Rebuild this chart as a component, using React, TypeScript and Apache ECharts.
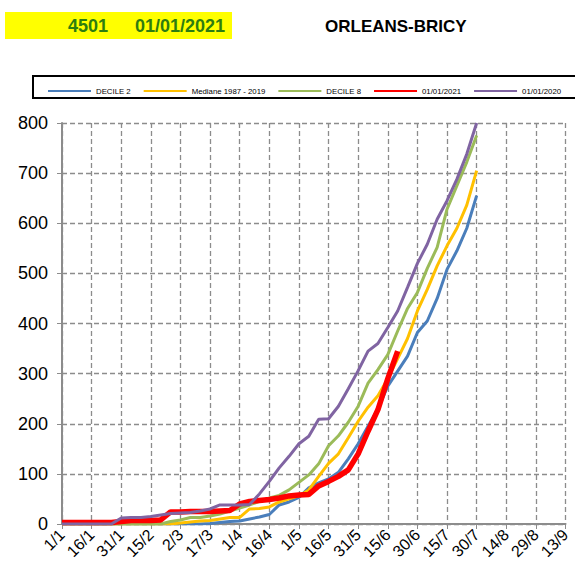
import { useEffect, useRef } from "react";
import * as echarts from "echarts";

// Day offsets from 1 January (sampling grid)
const DAYS = [
  0, 5, 10, 15, 20, 25, 30, 35, 40, 45, 50, 55, 60, 65, 70, 75, 80, 85, 90, 95,
  100, 105, 110, 115, 120, 125, 130, 135, 140, 145, 150, 155, 160, 165, 170,
  175, 180, 185, 190, 195, 200, 205, 210,
];

const DECILE_2 = [
  0, 0, 0, 0, 0, 0, 0, 0, 0, 0, 0, 0, 0, 0, 0, 1, 3, 5, 6, 10,
  14, 19, 38, 44, 53, 72, 82, 90, 103, 130, 160, 195, 230, 275, 305,
  335, 382, 405, 450, 508, 545, 590, 655,
];

const MEDIANE = [
  0, 0, 0, 0, 0, 0, 0, 0, 0, 0, 0, 0, 2, 4, 6, 7, 10, 13, 13, 30,
  31, 34, 44, 50, 56, 68, 95, 121, 140, 172, 205, 233, 256, 290, 330,
  370, 425, 468, 515, 555, 590, 636, 705,
];

const DECILE_8 = [
  0, 0, 0, 0, 0, 0, 0, 0, 0, 0, 0, 5, 8, 13, 13, 16, 20, 26, 32, 38,
  45, 52, 57, 68, 83, 98, 120, 156, 176, 203, 235, 281, 308, 338, 385,
  430, 462, 510, 552, 628, 675, 722, 775,
];

const YEAR_2021 = [
  3, 3, 3, 3, 3, 3, 5, 7, 7, 7, 8, 24, 24, 25, 25, 25, 26, 27, 40, 45,
  47, 49, 52, 56, 58, 59, 76, 85, 95, 108, 140, 185, 228, 290, 345,
];

const YEAR_2020 = [
  0, 0, 0, 0, 0, 0, 12, 13, 13, 15, 18, 21, 22, 23, 26, 30, 38, 38, 38, 39,
  60, 85, 112, 135, 160, 175, 209, 210, 235, 270, 306, 345, 360, 392, 425,
  472, 520, 558, 608, 645, 688, 738, 800,
];

const SERIES_NAMES = [
  "DECILE 2",
  "Mediane 1987 - 2019",
  "DECILE 8",
  "01/01/2021",
  "01/01/2020",
];
const SERIES_VALUES = [DECILE_2, MEDIANE, DECILE_8, YEAR_2021, YEAR_2020];
const SERIES_COLORS = ["#4a7ebb", "#ffc000", "#9bbb59", "#ff0000", "#8064a2"];
const SERIES_WIDTHS = [3, 3, 3, 5.5, 3];

const STATION_CODE = "4501";
const START_DATE = "01/01/2021";
const STATION_NAME = "ORLEANS-BRICY";

const FONT = "'Liberation Sans', Arial, Helvetica, sans-serif";

function dayLabel(v: number): string {
  const d = new Date(Date.UTC(2021, 0, 1 + Math.round(v)));
  return `${d.getUTCDate()}/${d.getUTCMonth() + 1}`;
}

export default function App() {
  const ref = useRef<HTMLDivElement>(null);

  useEffect(() => {
    const chart = echarts.init(ref.current!, null, { renderer: "svg" });
    const grey = "#8c8c8c";
    const option: any = {
      animation: false,
      backgroundColor: "#ffffff",
      textStyle: { fontFamily: FONT },
      grid: { left: 62, right: 9.5, top: 123, bottom: 40, containLabel: false },
      legend: {
        data: SERIES_NAMES,
        icon: "rect",
        left: 48,
        top: 87,
        padding: 0,
        itemWidth: 43,
        itemHeight: 2,
        itemGap: 13,
        textStyle: { fontSize: 7.8, color: "#000", fontFamily: FONT },
      },
      xAxis: {
        type: "value",
        min: 0,
        max: 255,
        interval: 15,
        axisLine: { show: true, lineStyle: { color: grey, width: 2 } },
        axisTick: { show: true, length: 5, lineStyle: { color: grey, width: 1 } },
        splitLine: {
          show: true,
          lineStyle: { color: grey, width: 1.3, type: [5, 3] },
        },
        axisLabel: {
          rotate: 45,
          fontSize: 16,
          color: "#000",
          margin: 8,
          fontFamily: FONT,
          showMinLabel: true,
          showMaxLabel: true,
          formatter: (v: number) => dayLabel(v),
        },
      },
      yAxis: {
        type: "value",
        min: 0,
        max: 800,
        interval: 100,
        axisLine: { show: true, lineStyle: { color: grey, width: 2 } },
        axisTick: { show: true, length: 5, lineStyle: { color: grey, width: 1 } },
        splitLine: {
          show: true,
          lineStyle: { color: grey, width: 1.3, type: [5, 3] },
        },
        axisLabel: { fontSize: 18, color: "#000", margin: 14, fontFamily: FONT },
      },
      series: SERIES_NAMES.map((name, i) => ({
        name,
        type: "line",
        symbol: "none",
        showSymbol: false,
        data: SERIES_VALUES[i].map((v, j) => [DAYS[j], v]),
        lineStyle: { color: SERIES_COLORS[i], width: SERIES_WIDTHS[i] },
        itemStyle: { color: SERIES_COLORS[i] },
        z: 2 + i,
      })),
      graphic: [
        {
          type: "rect",
          shape: { x: 5, y: 12, width: 227, height: 27 },
          style: { fill: "#ffff00" },
          z: 1,
        },
        {
          type: "text",
          x: 68,
          y: 26,
          style: {
            text: STATION_CODE,
            fill: "#2e7d10",
            font: `bold 18px ${FONT}`,
            textVerticalAlign: "middle",
          },
          z: 2,
        },
        {
          type: "text",
          x: 135,
          y: 26,
          style: {
            text: START_DATE,
            fill: "#2e7d10",
            font: `bold 18px ${FONT}`,
            textVerticalAlign: "middle",
          },
          z: 2,
        },
        {
          type: "text",
          x: 325,
          y: 26,
          style: {
            text: STATION_NAME,
            fill: "#000",
            font: `bold 17px ${FONT}`,
            textVerticalAlign: "middle",
          },
          z: 2,
        },
        {
          type: "rect",
          shape: { x: 33, y: 76, width: 560, height: 22 },
          style: { fill: "none", stroke: "#000", lineWidth: 2 },
          z: 1,
        },
      ],
    };
    chart.setOption(option);
    return () => chart.dispose();
  }, []);

  return (
    <div
      ref={ref}
      style={{
        position: "fixed",
        left: 0,
        top: 0,
        width: 575,
        height: 564,
        background: "#fff",
      }}
    />
  );
}
